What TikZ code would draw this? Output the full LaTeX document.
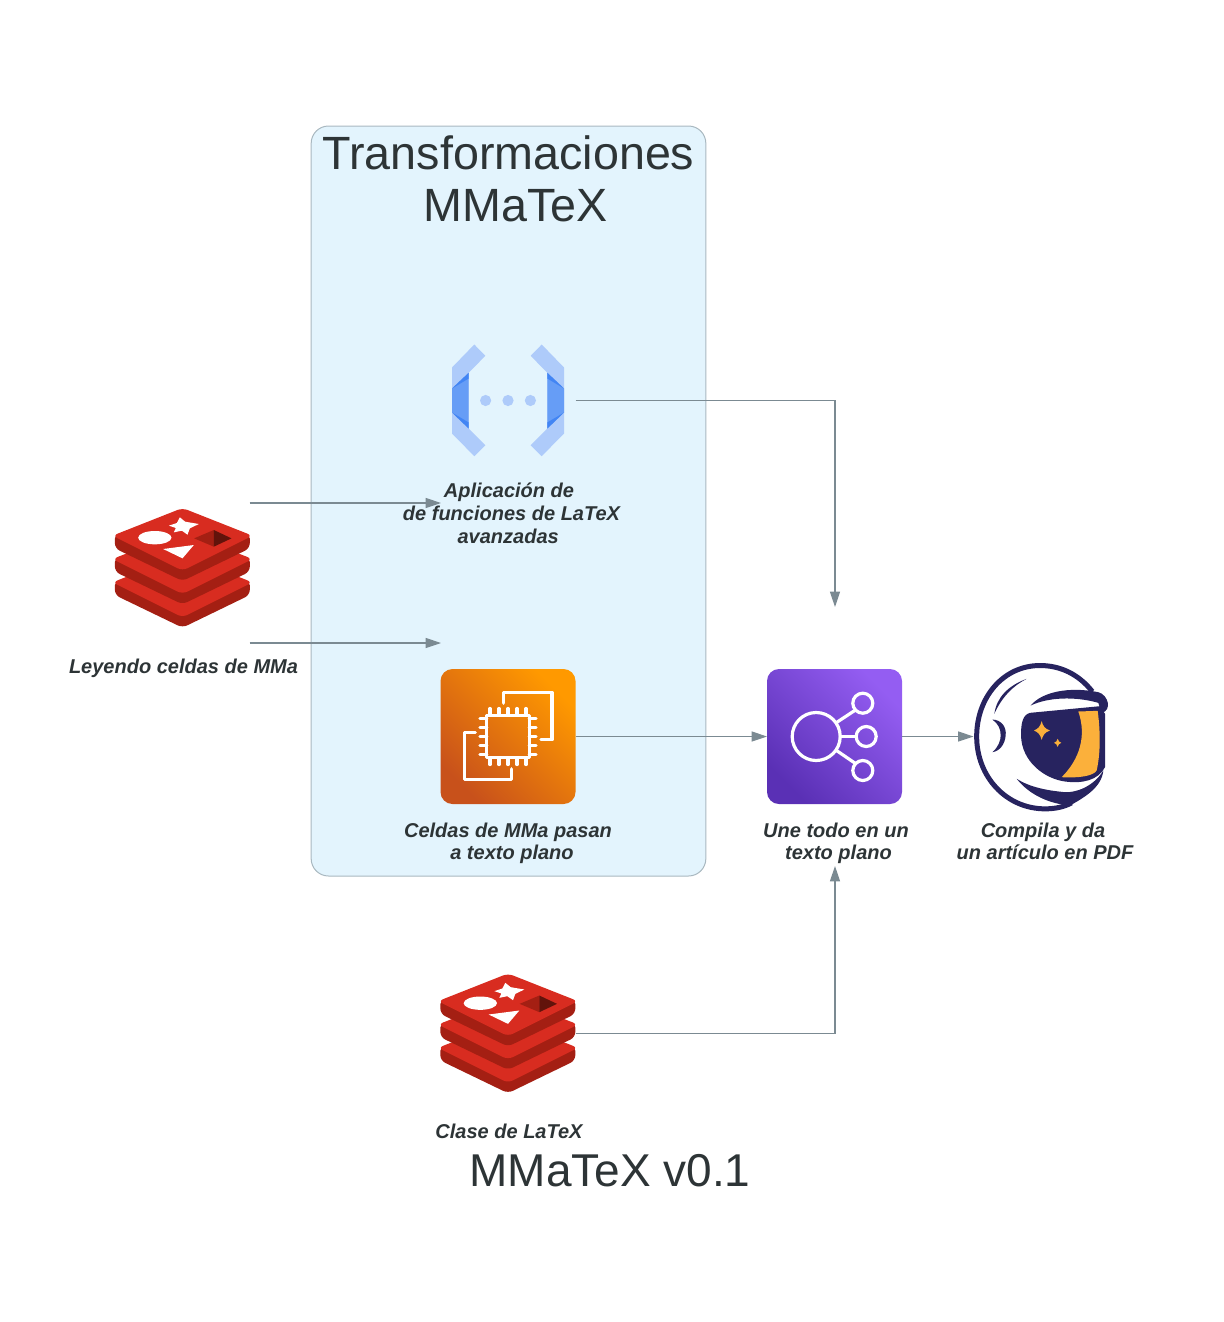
\documentclass[tikz,border=0pt]{standalone}
\usepackage{fontspec}
\setmainfont{Liberation Sans}
\usetikzlibrary{arrows.meta}
\definecolor{inkgray}{HTML}{2D3436}
\definecolor{linegray}{HTML}{7B8A92}
\definecolor{boxfill}{HTML}{E3F4FD}
\definecolor{boxline}{HTML}{A9B8C0}
\definecolor{redface}{HTML}{D82C20}
\definecolor{redside}{HTML}{A41F13}
\definecolor{gcplight}{HTML}{AECBFA}
\definecolor{gcpmid}{HTML}{669DF6}
\definecolor{gcpdark}{HTML}{4285F4}
\definecolor{ecdark}{HTML}{C8511B}
\definecolor{eclight}{HTML}{FF9900}
\definecolor{lbdark}{HTML}{5A30B5}
\definecolor{lblight}{HTML}{945DF2}
\definecolor{navy}{HTML}{27235F}
\definecolor{gold}{HTML}{FBB03B}
\tikzset{
  iconbox/.style={minimum width=101.25pt,minimum height=101.25pt,inner sep=0pt,outer sep=0pt},
  textlabel/.style={font=\fontsize{15}{16.5}\selectfont\bfseries\itshape,text=inkgray,align=center,inner sep=0pt},
  titlelabel/.style={text=inkgray,align=center,inner sep=0pt},
  conn/.style={draw=linegray,line width=.8pt,-{Triangle[length=11.5pt,width=7.5pt]}},
  whiteline/.style={draw=white,line width=2.4pt,line cap=round,line join=round},
  redis/.pic={
    \begin{scope}[scale=.3333,shift={(-248,-204)}]
    \foreach \o in {140,70,0}{
      \begin{scope}[shift={(0,\o)},rounded corners=4pt]
      \fill[redside] (45,100) -- (45,145) -- (248,243) -- (450,145) -- (450,100) -- cycle;
      \fill[redface] (38,107) -- (248,24) -- (458,107) -- (248,212) -- cycle;
      \end{scope}
    }
    \fill[white] (165,113) ellipse (50 and 20);
    \fill[white] (240,52) -- (256,65) -- (297,72) -- (270,85) -- (263,104) -- (246,92) -- (222,97) -- (228,84) -- (207,77) -- (231,69) -- cycle;
    \fill[white] (190,147) -- (282,135) -- (248,175) -- cycle;
    \fill[redside] (283,115) -- (342,90) -- (342,140) -- cycle;
    \fill[black!40!redside] (342,90) -- (395,115) -- (342,140) -- cycle;
    \end{scope}
  },
  gcpside/.pic={
    \fill[gcplight] (-33.7,-56) -- (-22.7,-44.7) -- (-39.3,-27.7) -- (-39.3,28) -- (-22.7,44.7) -- (-33.7,55.7) -- (-56,33) -- (-56,-33) -- cycle;
    \fill[gcpmid] (-56,-12) -- (-39.3,-27.7) -- (-39.3,28) -- (-56,12) -- cycle;
    \fill[gcpdark] (-39.3,-27.7) -- (-56,-12) -- (-39.3,-22) -- cycle;
    \fill[gcpdark] (-39.3,28) -- (-56,12) -- (-39.3,22) -- cycle;
  },
  gcp/.pic={
    \pic {gcpside};
    \pic[xscale=-1] {gcpside};
    \foreach \d in {-22.4,0,22.4}{
      \fill[gcplight] (\d,0) circle (5.6);
    }
  },
  ecicon/.pic={
    \shade[rounded corners=9pt,left color=ecdark,right color=eclight,shading angle=135]
      (-67.5,-67.5) rectangle (67.5,67.5);
    \draw[whiteline] (-21.3,-21.3) rectangle (21.3,21.3);
    \foreach \p in {-18,-9,0,9,18}{
      \draw[whiteline] (\p,-21.3) -- (\p,-28);
      \draw[whiteline] (\p,21.3) -- (\p,28);
      \draw[whiteline] (-21.3,\p) -- (-28,\p);
      \draw[whiteline] (21.3,\p) -- (28,\p);
    }
    \draw[whiteline] (-4.3,-33.3) -- (-4.3,-44) -- (44,-44) -- (44,3.3) -- (33,3.3);
    \draw[whiteline] (-32.7,-4) -- (-43.3,-4) -- (-43.3,42.7) -- (3.3,42.7) -- (3.3,32.3);
  },
  netlbicon/.pic={
    \shade[rounded corners=9pt,left color=lbdark,right color=lblight,shading angle=135]
      (-67.5,-67.5) rectangle (67.5,67.5);
    \draw[whiteline] (-18.3,0) circle (24);
    \draw[whiteline] (28.3,-33.3) circle (10);
    \draw[whiteline] (31.7,0) circle (10);
    \draw[whiteline] (28.3,34) circle (10);
    \draw[whiteline] (2,-14) -- (21,-26.5);
    \draw[whiteline] (5.7,0) -- (21.7,0);
    \draw[whiteline] (2,14) -- (21,27);
  },
  astro/.pic={
    \begin{scope}[scale=.3333,shift={(-228,-243)}]
    \draw[navy,line width=3.75pt] (382,108) .. controls (340,55) and (285,30) .. (225,30)
      .. controls (115,30) and (35,125) .. (35,243) .. controls (35,365) and (125,460) .. (240,460)
      .. controls (270,460) and (295,455) .. (320,442);
    \fill[navy] (155,370) .. controls (195,420) and (255,445) .. (315,450) .. controls (360,425) and (410,395) .. (415,345)
      .. controls (385,395) and (330,412) .. (300,410) .. controls (245,405) and (195,395) .. (155,370) -- cycle;
    \fill[navy] (197,150) .. controls (230,110) and (310,92) .. (400,110) .. controls (430,118) and (442,165) .. (410,172)
      -- (400,142) .. controls (330,122) and (250,125) .. (197,150) -- cycle;
    \fill[navy] (195,172) -- (405,152) -- (420,175) -- (420,335) .. controls (400,375) and (350,385) .. (300,378)
      .. controls (240,370) and (170,320) .. (168,240) .. controls (168,205) and (172,178) .. (195,172) -- cycle;
    \fill[gold] (340,168) -- (398,166) .. controls (408,240) and (405,300) .. (395,345)
      .. controls (385,362) and (340,368) .. (290,365) .. controls (345,310) and (365,240) .. (340,168) -- cycle;
    \fill[navy] (185,70) .. controls (130,90) and (95,125) .. (88,175) .. controls (110,125) and (145,90) .. (185,70) -- cycle;
    \fill[navy] (82,192) .. controls (110,193) and (125,215) .. (122,240) .. controls (120,265) and (105,287) .. (82,290)
      .. controls (100,275) and (107,255) .. (107,240) .. controls (107,220) and (100,205) .. (82,192) -- cycle;
    \fill[gold] (230,197) .. controls (234,212) and (240,220) .. (255,225) .. controls (240,230) and (234,238) .. (230,253)
      .. controls (226,238) and (220,230) .. (207,225) .. controls (220,220) and (226,212) .. (230,197) -- cycle;
    \fill[gold] (278,250) .. controls (280,257) and (283,260) .. (289,262) .. controls (283,264) and (280,267) .. (278,274)
      .. controls (276,267) and (273,264) .. (267,262) .. controls (273,260) and (276,257) .. (278,250) -- cycle;
    \end{scope}
  }
}
\begin{document}
\begin{tikzpicture}[x=.75pt,y=-.75pt]
    \useasboundingbox (0,0) rectangle (1224,1322);
    \node[draw=boxline,fill=boxfill,line width=.75pt,rounded corners=13pt,minimum width=296pt,minimum height=562.5pt,inner sep=0pt] (mmatex-box) at (508.5,501) {};
    \node[titlelabel,font=\fontsize{35}{39}\selectfont] (mmatex-title) at (508.5,179) {Transformaciones\\\kern 10.5pt MMaTeX};

    \node[iconbox] (redis-celdas) at (182.5,568)  {};
    \node[iconbox] (gcp-func)     at (508,400.5)  {};
    \node[iconbox] (ec2-plano)    at (508,736.5)  {};
    \node[iconbox] (netlb-une)    at (834.5,736.5) {};
    \node[iconbox] (astro-pdf)    at (1041,736.5) {};
    \node[iconbox] (redis-clase)  at (508,1033.5) {};
    \pic at (redis-celdas) {redis};
    \pic at (gcp-func)     {gcp};
    \pic at (ec2-plano)    {ecicon};
    \pic at (netlb-une)    {netlbicon};
    \pic at (astro-pdf)    {astro};
    \pic at (redis-clase)  {redis};

    \node[textlabel] (redis-celdas-txt) at (183.5,668)  {Leyendo celdas de MMa};
    \node[textlabel] (gcp-func-txt)     at (511.5,513)  {Aplicación de\kern 3.75pt\\[.75pt]de funciones de LaTeX\\[.75pt]avanzadas\kern 5pt};
    \node[textlabel] (ec2-plano-txt)    at (508,843)    {Celdas de MMa pasan\\\kern 6pt a texto plano};
    \node[textlabel] (netlb-une-txt)    at (836,843)    {Une todo en un\\\kern 3.75pt texto plano};
    \node[textlabel] (astro-pdf-txt)    at (1045,841)   {Compila y da\kern 3pt\\un artículo en PDF};
    \node[textlabel] (redis-clase-txt)  at (509,1131)   {Clase de LaTeX};
    \node[titlelabel,font=\fontsize{34.5}{40}\selectfont] (mmatex-foot) at (610,1171) {MMaTeX v0.1};

    \coordinate (celdas-out-a) at (249.5,503);
    \coordinate (celdas-out-b) at (249.5,643);
    \coordinate (func-in)      at (441,503);
    \coordinate (plano-in)     at (441,643);
    \coordinate (une-top)      at (835,607);
    \coordinate (une-bottom)   at (835,866);

    \draw[conn] (celdas-out-a)  to (func-in);
    \draw[conn] (celdas-out-b)  to (plano-in);
    \draw[conn] (gcp-func.east) -| (une-top);
    \draw[conn] (ec2-plano)     to (netlb-une);
    \draw[conn] (netlb-une)     to (astro-pdf);
    \draw[conn] (redis-clase.east) -| (une-bottom);
\end{tikzpicture}
\end{document}
